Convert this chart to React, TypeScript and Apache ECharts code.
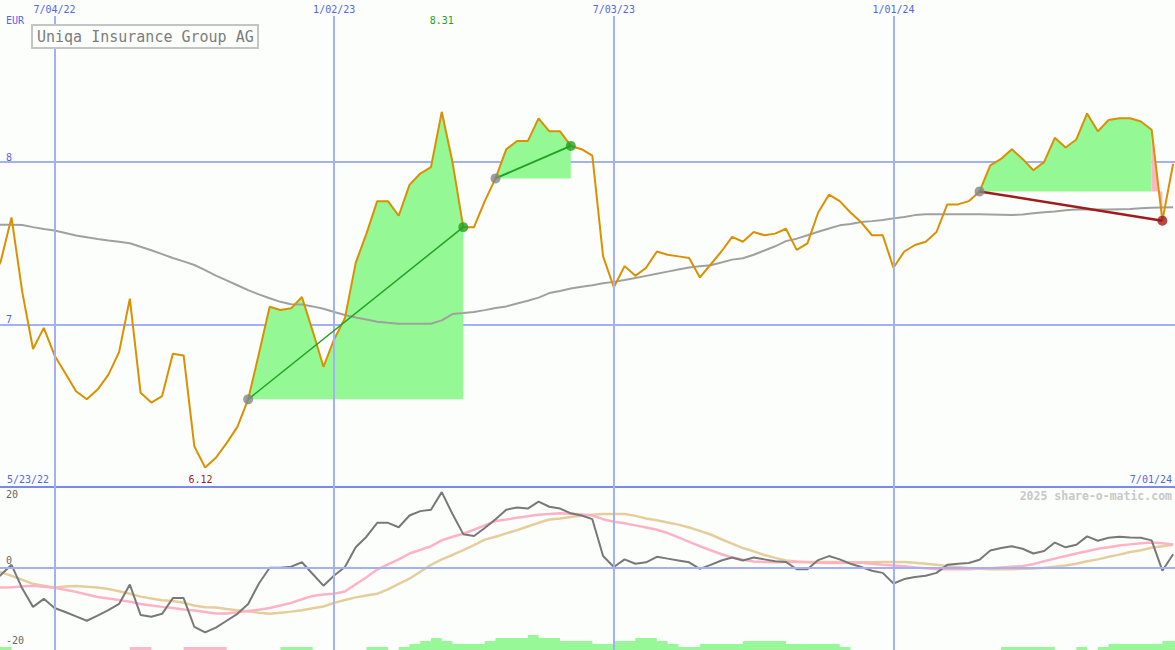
import React, { useEffect, useRef } from "react";
import * as echarts from "echarts";

const DAY = 86400000;
const START = Date.UTC(2022, 4, 23); // first weekly sample 5/23/22
const X_MIN = Date.UTC(2022, 4, 29, 12);
const X_MAX = Date.UTC(2024, 6, 2, 5);

// weekly closing prices (EUR)
const price = [
  7.25, 7.39, 7.66, 7.2, 6.85, 6.98, 6.81, 6.7, 6.59, 6.54,
  6.6, 6.69, 6.83, 7.16, 6.58, 6.52, 6.56, 6.82, 6.81, 6.25,
  6.12, 6.18, 6.27, 6.37, 6.54, 6.82, 7.11, 7.09, 7.1, 7.17,
  6.96, 6.74, 6.91, 7.04, 7.38, 7.56, 7.76, 7.76, 7.67, 7.86,
  7.93, 7.97, 8.31, 8.0, 7.6, 7.6, 7.76, 7.9, 8.08, 8.13,
  8.13, 8.27, 8.19, 8.19, 8.1, 8.08, 8.04, 7.42, 7.23, 7.36,
  7.3, 7.35, 7.45, 7.43, 7.42, 7.41, 7.29, 7.37, 7.45, 7.54,
  7.51, 7.57, 7.55, 7.56, 7.59, 7.46, 7.5, 7.69, 7.8, 7.76,
  7.69, 7.63, 7.55, 7.55, 7.35, 7.45, 7.49, 7.51, 7.57, 7.74,
  7.74, 7.76, 7.82, 7.98, 8.02, 8.08, 8.02, 7.95, 8.0, 8.15,
  8.09, 8.14, 8.3, 8.19, 8.26, 8.27, 8.27, 8.25, 8.2, 7.64,
  7.99,
];

// long moving average
const movingAvg = [
  7.615, 7.615, 7.615, 7.613, 7.6, 7.589, 7.579, 7.564, 7.548, 7.538,
  7.527, 7.518, 7.51, 7.501, 7.479, 7.458, 7.434, 7.41, 7.389, 7.367,
  7.335, 7.302, 7.272, 7.242, 7.212, 7.186, 7.162, 7.14, 7.125, 7.123,
  7.112, 7.097, 7.078, 7.059, 7.044, 7.031, 7.018, 7.011, 7.005, 7.005,
  7.005, 7.005, 7.026, 7.065, 7.071, 7.078, 7.089, 7.102, 7.112, 7.13,
  7.147, 7.166, 7.194, 7.207, 7.222, 7.233, 7.242, 7.255, 7.263, 7.274,
  7.287, 7.3, 7.313, 7.326, 7.339, 7.352, 7.359, 7.365, 7.382, 7.4,
  7.408, 7.43, 7.456, 7.482, 7.514, 7.529, 7.55, 7.572, 7.592, 7.611,
  7.62, 7.631, 7.637, 7.644, 7.654, 7.663, 7.674, 7.68, 7.68, 7.68,
  7.68, 7.68, 7.68, 7.678, 7.676, 7.674, 7.678, 7.685, 7.691, 7.697,
  7.704, 7.708, 7.708, 7.708, 7.708, 7.71, 7.712, 7.717, 7.719, 7.721,
  7.723,
];

// oscillator (dark grey)
const oscillator = [
  -4, -2, 0.8, -5.7, -10.7, -8.5, -11, -12.1, -13.3, -14.5,
  -13.1, -11.6, -9.9, -4.6, -12.9, -13.4, -12.6, -8.3, -8.3, -16.2,
  -17.7, -16.4, -14.5, -12.6, -9.9, -4.3, 0, 0, 0.3, 1.5,
  -1.7, -4.9, -2.1, 0.2, 5.6, 8.5, 12.3, 12.3, 11.1, 14.3,
  15.5, 15.9, 20.7, 14.7, 9.2, 8.7, 10.9, 13.3, 15.9, 16.5,
  16.2, 18.1, 16.7, 16.2, 14.9, 14.3, 13.3, 3.2, 0.2, 2.3,
  1.1, 1.5, 3, 2.5, 2, 1.5, -0.3, 0.8, 2, 2.8,
  2, 2.8, 2.3, 1.8, 1.6, -0.4, -0.4, 2.1, 3.2, 2.3,
  1.1, 0.2, -0.8, -1.4, -4.3, -3.1, -2.5, -2.2, -1.4, 0.8,
  1.1, 1.3, 2.2, 4.7, 5.4, 5.9, 5.2, 3.9, 4.6, 6.9,
  5.6, 6.3, 8.6, 7.4, 8.2, 8.5, 8.3, 8.2, 7.5, -0.8,
  3.7,
];

// fast signal (pink)
const signalFast = [
  -5.4, -5.4, -5.3, -5.1, -4.9, -5.2, -5.5, -6, -6.6, -7.3,
  -8, -8.4, -8.8, -9.3, -9.9, -10.3, -10.7, -11, -11.4, -11.7,
  -12.1, -12.5, -12.5, -12.2, -11.8, -11.5, -11, -10.3, -9.6, -8.6,
  -7.7, -7.3, -7.1, -6.5, -4.5, -2.6, -0.5, 0.9, 2.3, 3.9,
  4.9, 5.9, 7.5, 8.5, 9.3, 10.4, 11.6, 12.8, 13.2, 13.7,
  14.1, 14.5, 14.7, 14.9, 14.8, 14.6, 14.3, 13.3, 12.6, 12.2,
  11.6, 11, 10.4, 9.5, 8.3, 7.1, 5.9, 4.8, 3.7, 2.8,
  2.2, 1.7, 1.6, 1.5, 1.6, 1.6, 1.5, 1.4, 1.3, 1.3,
  1.4, 1.4, 1.1, 0.8, 0.6, 0.4, 0.1, -0.1, -0.4, -0.4,
  -0.4, -0.4, -0.2, -0.1, 0.1, 0.3, 0.5, 1, 1.8, 2.5,
  3.2, 3.9, 4.5, 5.2, 5.6, 6.1, 6.4, 6.7, 6.9, 6.7,
  6.4,
];

// slow signal (tan)
const signalSlow = [
  -0.6, -1.2, -2.2, -3.3, -4.4, -4.9, -5.4, -5.1, -5, -5.2,
  -5.4, -5.8, -6.4, -7.1, -7.9, -8.4, -8.9, -9.1, -9.6, -10.3,
  -10.8, -10.9, -11.3, -11.6, -11.9, -12.3, -12.6, -12.3, -12, -11.6,
  -11.1, -10.6, -9.6, -8.8, -8.1, -7.6, -7.1, -5.9, -4.4, -3,
  -1.1, 0.8, 2.3, 3.5, 4.8, 6.2, 7.7, 8.5, 9.4, 10.3,
  11.3, 12.3, 13.2, 13.5, 13.9, 14.3, 14.5, 14.7, 14.7, 14.7,
  14.2, 13.5, 13, 12.4, 11.8, 11, 10.1, 9.1, 7.8, 6.6,
  5.4, 4.5, 3.5, 2.7, 2, 1.7, 1.6, 1.6, 1.6, 1.6,
  1.5, 1.5, 1.5, 1.6, 1.6, 1.6, 1.4, 1.1, 0.8, 0.5,
  0.2, -0.1, -0.3, -0.4, -0.4, -0.4, -0.3, -0.2, 0, 0.3,
  0.6, 1.1, 1.8, 2.3, 3, 3.6, 4.3, 4.8, 5.5, 5.9,
  6.3,
];

// histogram levels (positive = green, negative = pink), one per week
const histogram = [
  1, 1, 0, 0, 0, 0, 0, 0, 0, 0,
  0, 0, 0, -1, -1, 0, 0, 0, -1, -1,
  -1, -1, 0, 0, 0, 0, 0, 1, 1, 1,
  0, 0, 0, 0, 0, 1, 1, 0, 1, 2,
  3, 4, 3, 2, 2, 2, 3, 4, 4, 4,
  5, 4, 4, 3, 3, 3, 2, 2, 3, 3,
  4, 4, 3, 2, 1, 1, 2, 2, 2, 2,
  3, 3, 3, 3, 2, 2, 2, 2, 2, 1,
  0, 0, 0, 0, 0, 0, 0, 0, 0, 0,
  0, 0, 0, 0, 1, 1, 1, 1, 1, 0,
  0, 1, 0, 1, 2, 2, 2, 2, 2, 3,
  3,
];

// trend phases: start index, end index, end type
const trendStarts = [24, 47, 92];
const trendEnds = [44, 54, 109];
const trendUp = [true, true, false];

const gridDates = [Date.UTC(2022, 6, 4), Date.UTC(2023, 0, 2), Date.UTC(2023, 6, 3), Date.UTC(2024, 0, 1)];
const gridLabels = ["7/04/22", "1/02/23", "7/03/23", "1/01/24"];
const firstLabel = "5/23/22";
const lastLabel = "7/01/24";
const title = "Uniqa Insurance Group AG";
const currency = "EUR";
const credit = "2025 share-o-matic.com";

const dates = price.map((_, i) => START + i * 7 * DAY);

const MONO = '"DejaVu Sans Mono", "Liberation Mono", monospace';
const BG = "#fcfefc";
const GRID = "#a3b0f2";
const SEP = "#7b89ec";
const BLUE_TXT = "#5565e6";
const PRICE = "#da9000";
const MA = "#a0a0a0";
const FILL_G = "#94f994";
const FILL_P = "#ffb6c1";

function App() {
  const ref = useRef<HTMLDivElement>(null);

  useEffect(() => {
    if (!ref.current) return;
    const chart = echarts.init(ref.current, null, { renderer: "svg" });
    const pt = (i: number) => [dates[i], price[i]];
    const range = (a: number, b: number) => {
      const out: number[][] = [];
      for (let i = a; i <= b; i++) out.push(pt(i));
      return out;
    };
    let iMax = 0;
    let iMin = 0;
    price.forEach((v, i) => {
      if (v > price[iMax]) iMax = i;
      if (v < price[iMin]) iMin = i;
    });

    const fills: any[] = [];
    trendStarts.forEach((s, k) => {
      const e = trendEnds[k];
      const base = price[s];
      if (trendUp[k]) {
        fills.push({
          type: "line", xAxisIndex: 0, yAxisIndex: 0, data: range(s, e), symbol: "none",
          lineStyle: { width: 0 }, areaStyle: { color: FILL_G, opacity: 1, origin: base }, z: 1, silent: true,
        });
      } else {
        fills.push({
          type: "line", xAxisIndex: 0, yAxisIndex: 0, data: range(s, e - 1), symbol: "none",
          lineStyle: { width: 0 }, areaStyle: { color: FILL_G, opacity: 1, origin: base }, z: 1, silent: true,
        });
        fills.push({
          type: "line", xAxisIndex: 0, yAxisIndex: 0, data: range(e - 1, e), symbol: "none",
          lineStyle: { width: 0 }, areaStyle: { color: FILL_P, opacity: 1, origin: base }, z: 1, silent: true,
        });
      }
    });

    const trendLines = trendStarts.map((s, k) => ({
      type: "line", xAxisIndex: 0, yAxisIndex: 0, data: [pt(s), pt(trendEnds[k])], symbol: "none",
      lineStyle: { color: trendUp[k] ? "#22a022" : "#a01c1c", width: k === 0 ? 1.5 : trendUp[k] ? 2 : 2.5 },
      z: 5, silent: true,
    }));

    const dots: any[] = [];
    trendStarts.forEach((s, k) => {
      dots.push({ value: pt(s), itemStyle: { color: "#858585" } });
      dots.push({ value: pt(trendEnds[k]), itemStyle: { color: trendUp[k] ? "#22a022" : "#a01c1c" } });
    });

    // histogram as stepped areas: each week's level spans to the next week
    const stepData = (sign: number) => {
      const d = histogram.map((v, k) => [dates[k], v * sign > 0 ? Math.abs(v) : 0]);
      const last = histogram[histogram.length - 1];
      d.push([dates[dates.length - 1] + 7 * DAY, last * sign > 0 ? Math.abs(last) : 0]);
      return d;
    };

    const series: any[] = [
      {
        type: "line", xAxisIndex: 0, yAxisIndex: 0, data: [], z: 0, silent: true,
        markLine: {
          silent: true, symbol: ["none", "none"], animation: false,
          lineStyle: { color: GRID, width: 2, type: "solid" },
          label: {
            show: true, position: "end", distance: 2, color: BLUE_TXT, fontSize: 10, fontFamily: MONO,
            formatter: (p: any) => gridLabels[p.dataIndex],
          },
          data: gridDates.map((d) => ({ xAxis: d })),
        },
      },
      {
        type: "line", xAxisIndex: 1, yAxisIndex: 1, data: [], z: 0, silent: true,
        markLine: {
          silent: true, symbol: ["none", "none"], animation: false,
          lineStyle: { color: GRID, width: 2, type: "solid" },
          label: { show: false },
          data: [...gridDates.map((d) => ({ xAxis: d })), { yAxis: 0 }],
        },
      },
      ...fills,
      {
        type: "line", xAxisIndex: 0, yAxisIndex: 0, data: movingAvg.map((v, i) => [dates[i], v]),
        symbol: "none", lineStyle: { color: MA, width: 2 }, z: 3, silent: true,
      },
      {
        type: "line", xAxisIndex: 0, yAxisIndex: 0, data: price.map((v, i) => [dates[i], v]),
        symbol: "none", lineStyle: { color: PRICE, width: 2 }, z: 4, silent: true,
        markPoint: {
          silent: true, animation: false, symbolSize: 0,
          data: [
            {
              coord: [dates[iMax], 8.875], symbolSize: 0,
              label: { show: true, position: "inside", formatter: price[iMax].toFixed(2), color: "#22a022", fontSize: 10, fontFamily: MONO },
            },
            {
              coord: [dates[iMin] - 3 * DAY, 6.049], symbolSize: 0,
              label: { show: true, position: "inside", formatter: price[iMin].toFixed(2), color: "#a01c1c", fontSize: 10, fontFamily: MONO },
            },
          ],
        },
      },
      ...trendLines,
      {
        type: "scatter", xAxisIndex: 0, yAxisIndex: 0, data: dots, symbolSize: 10, z: 6, silent: true,
      },
      {
        type: "line", xAxisIndex: 1, yAxisIndex: 2, data: stepData(1), step: "end", symbol: "none",
        lineStyle: { width: 0 }, areaStyle: { color: "#96f896", opacity: 1 }, z: 1, silent: true,
      },
      {
        type: "line", xAxisIndex: 1, yAxisIndex: 2, data: stepData(-1), step: "end", symbol: "none",
        lineStyle: { width: 0 }, areaStyle: { color: "#ffb6c8", opacity: 1 }, z: 1, silent: true,
      },
      {
        type: "line", xAxisIndex: 1, yAxisIndex: 1, data: signalSlow.map((v, i) => [dates[i], v]),
        symbol: "none", lineStyle: { color: "#e6cd9c", width: 2.5 }, z: 2, silent: true,
      },
      {
        type: "line", xAxisIndex: 1, yAxisIndex: 1, data: signalFast.map((v, i) => [dates[i], v]),
        symbol: "none", lineStyle: { color: "#ffb2c6", width: 2.5 }, z: 3, silent: true,
      },
      {
        type: "line", xAxisIndex: 1, yAxisIndex: 1, data: oscillator.map((v, i) => [dates[i], v]),
        symbol: "none", lineStyle: { color: "#787878", width: 2 }, z: 4, silent: true,
      },
    ];

    chart.setOption({
      animation: false,
      backgroundColor: BG,
      grid: [
        { left: 0, right: 0, top: 16, height: 471 },
        { left: 0, right: 0, top: 487, height: 163 },
      ],
      xAxis: [
        {
          type: "time", gridIndex: 0, min: X_MIN, max: X_MAX,
          axisLine: { show: true, lineStyle: { color: SEP, width: 2 } },
          axisTick: { show: false }, axisLabel: { show: false }, splitLine: { show: false },
        },
        {
          type: "time", gridIndex: 1, min: X_MIN, max: X_MAX,
          axisLine: { show: false }, axisTick: { show: false }, axisLabel: { show: false }, splitLine: { show: false },
        },
      ],
      yAxis: [
        {
          type: "value", gridIndex: 0, min: 6, max: 8.9, interval: 1,
          axisLine: { show: false }, axisTick: { show: false },
          axisLabel: {
            inside: true, margin: 6, showMinLabel: false, showMaxLabel: false, verticalAlign: "bottom",
            color: BLUE_TXT, fontSize: 10, fontFamily: MONO,
          },
          splitLine: { show: true, showMinLine: false, showMaxLine: false, lineStyle: { color: GRID, width: 2 } },
        },
        {
          type: "value", gridIndex: 1, min: -22.5, max: 22.1,
          axisLine: { show: false }, axisTick: { show: false }, splitLine: { show: false },
          axisLabel: {
            inside: true, margin: 6, customValues: [-20, 0, 20], color: "#666666", fontSize: 10, fontFamily: MONO,
            formatter: (v: number) => (v === 0 ? "{z|0}" : String(v)),
            rich: { z: { padding: [0, 0, 14, 0], color: "#666666", fontSize: 10, fontFamily: MONO } },
          },
        },
        { type: "value", gridIndex: 1, min: 0, max: 54.33, show: false, splitLine: { show: false } },
      ],
      graphic: [
        { type: "text", left: 6, top: 15, style: { text: currency, fill: BLUE_TXT, font: `10px ${MONO}` }, z: 10 },
        {
          type: "rect", shape: { x: 32, y: 25, width: 226, height: 23 },
          style: { fill: BG, stroke: "#c4c4c4", lineWidth: 2 }, z: 10,
        },
        {
          type: "text", x: 37, y: 37, style: { text: title, fill: "#7c7c7c", font: `15px ${MONO}`, textVerticalAlign: "middle" }, z: 11,
        },
        { type: "text", x: 7, y: 479, style: { text: firstLabel, fill: BLUE_TXT, font: `10px ${MONO}`, textVerticalAlign: "middle" }, z: 10 },
        { type: "text", x: 1172, y: 479, style: { text: lastLabel, fill: BLUE_TXT, font: `10px ${MONO}`, textAlign: "right", textVerticalAlign: "middle" }, z: 10 },
        { type: "text", x: 1172, y: 496, style: { text: credit, fill: "#c8c8c8", font: `bold 11.5px ${MONO}`, textAlign: "right", textVerticalAlign: "middle" }, z: 10 },
      ],
      series,
    });
    return () => chart.dispose();
  }, []);

  return (
    <div
      ref={ref}
      style={{ position: "fixed", left: 0, top: 0, width: 1175, height: 650, background: BG }}
    />
  );
}

export default App;
